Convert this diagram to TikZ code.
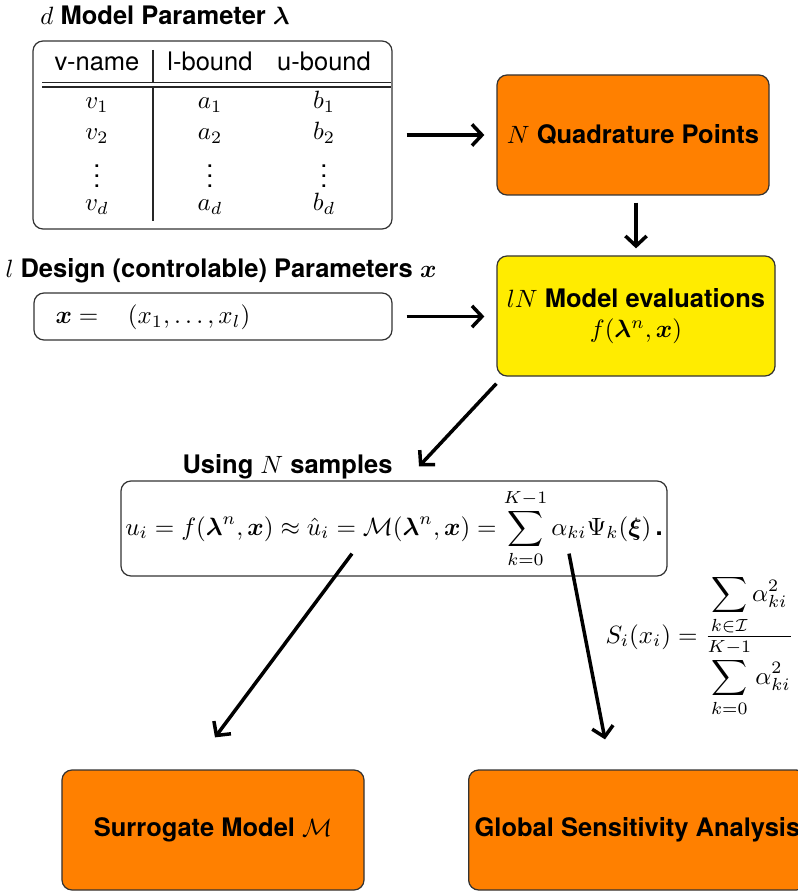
\documentclass[tikz,border=0pt]{standalone}
\usepackage{amsmath,amssymb,bm}
\usepackage{fontspec}
\setsansfont[Scale=1.02]{TeX Gyre Heros}
\renewcommand{\familydefault}{\sfdefault}
\usetikzlibrary{arrows.meta,calc}
\definecolor{qorange}{HTML}{FF8000}
\definecolor{qyellow}{HTML}{FFEC00}
\begin{document}
\begin{tikzpicture}[x=0.4pt,y=-0.4pt,
  box/.style={draw=black!80, line width=0.5pt, rounded corners=4pt, inner sep=0pt},
  lbl/.style={font=\bfseries, inner sep=0pt},
  cell/.style={anchor=base, inner sep=0pt},
  rule/.style={line width=0.5pt, draw=black!85},
  arr/.style={line width=1.4pt, -{Straight Barb[length=4pt,width=8.5pt]}}]
\useasboundingbox (0,0) rectangle (798,892);
\clip (0,0) rectangle (798,892);

% --- model parameter table
\node[lbl, anchor=base west] (t1) at (40,25) {$d$ Model Parameter $\bm{\lambda}$};
\node[box, minimum width=143.6pt, minimum height=75.2pt] (tab) at (212.5,135) {};
\node[cell] (h1) at (97,71) {v-name};
\node[cell] (h2) at (210,71) {l-bound};
\node[cell] (h3) at (324,71) {u-bound};
\draw[rule] (42,82.5) -- (391,82.5);
\draw[rule] (42,87) -- (391,87);
\draw[rule] (153,50) -- (153,82.5);
\draw[rule] (153,87) -- (153,221);
\node[cell] (v1) at (97,109) {$v_1$};
\node[cell] (a1) at (210,109) {$a_1$};
\node[cell] (b1) at (324,109) {$b_1$};
\node[cell] (v2) at (97,140) {$v_2$};
\node[cell] (a2) at (210,140) {$a_2$};
\node[cell] (b2) at (324,140) {$b_2$};
\node[inner sep=0pt] (v3) at (97,169) {$\vdots$};
\node[inner sep=0pt] (a3) at (210,169) {$\vdots$};
\node[inner sep=0pt] (b3) at (324,169) {$\vdots$};
\node[cell] (v4) at (97,211) {$v_d$};
\node[cell] (a4) at (210,211) {$a_d$};
\node[cell] (b4) at (324,211) {$b_d$};

% --- quadrature
\node[box, fill=qorange, minimum width=108.8pt, minimum height=48pt, font=\bfseries] (quad) at (633,135) {$N$ Quadrature Points};

% --- design parameters
\node[lbl, anchor=base west] (t2) at (5,277) {$l$ Design (controlable) Parameters $\bm{x}$};
\node[box, minimum width=143.2pt, minimum height=18.8pt] (xbox) at (213,316.5) {};
\node[anchor=west, inner sep=0pt] (xeq) at (55,317) {$\bm{x} =\hspace{9pt}(x_1,\dots,x_l)$};

% --- evaluations
\node[box, fill=qyellow, minimum width=111.2pt, minimum height=48pt, align=center] (eval) at (636,316) {\bfseries $lN$ Model evaluations\\ $f(\bm{\lambda}^n,\bm{x})$};

% --- surrogate formula
\node[lbl, anchor=base west] (t3) at (182,473) {Using $N$ samples};
\node[box, minimum width=218.4pt, minimum height=38pt] (form) at (394,528.5) {$\displaystyle u_i = f(\bm{\lambda}^n,\bm{x}) \approx \hat{u}_i = \mathcal{M}(\bm{\lambda}^n,\bm{x}) = \sum_{k=0}^{K-1}\alpha_{ki}\Psi_k(\bm{\xi})\,\textbf{.}$};

\node[anchor=west, inner sep=0pt] (sens) at (605,646) {$S_i(x_i) = \tfrac{\displaystyle\sum_{k\in\mathcal{I}}\alpha_{ki}^2}{\displaystyle\sum_{k=0}^{K-1}\alpha_{ki}^2}$};

% --- outputs
\node[box, fill=qorange, minimum width=120.8pt, minimum height=48pt, font=\bfseries] (surr) at (213,830) {Surrogate Model $\mathcal{M}$};
\node[box, fill=qorange, minimum width=120.8pt, minimum height=48pt, inner xsep=2.4pt, font=\bfseries, anchor=west] (gsa) at (468,830) {Global Sensitivity Analysis};

% --- connectors
\draw[arr, shorten <=5.6pt, shorten >=4.8pt] (tab.east) -- (quad.west);
\draw[arr, shorten <=2.8pt, shorten >=2.8pt] (eval.north |- quad.south) -- (eval.north);
\draw[arr, shorten <=5.6pt, shorten >=4.8pt] (xbox.east) -- (xbox.east -| eval.west);
\draw[arr] ([shift={(0,7)}]eval.south west) -- ([shift={(25,-14)}]form.north);
\draw[arr] ([shift={(-42,-23)}]form.south) -- ([shift={(2,-32)}]surr.north);
\draw[arr] ([shift={(175,-23)}]form.south) -- ([shift={(137,-30)}]gsa.north west);
\end{tikzpicture}
\end{document}
